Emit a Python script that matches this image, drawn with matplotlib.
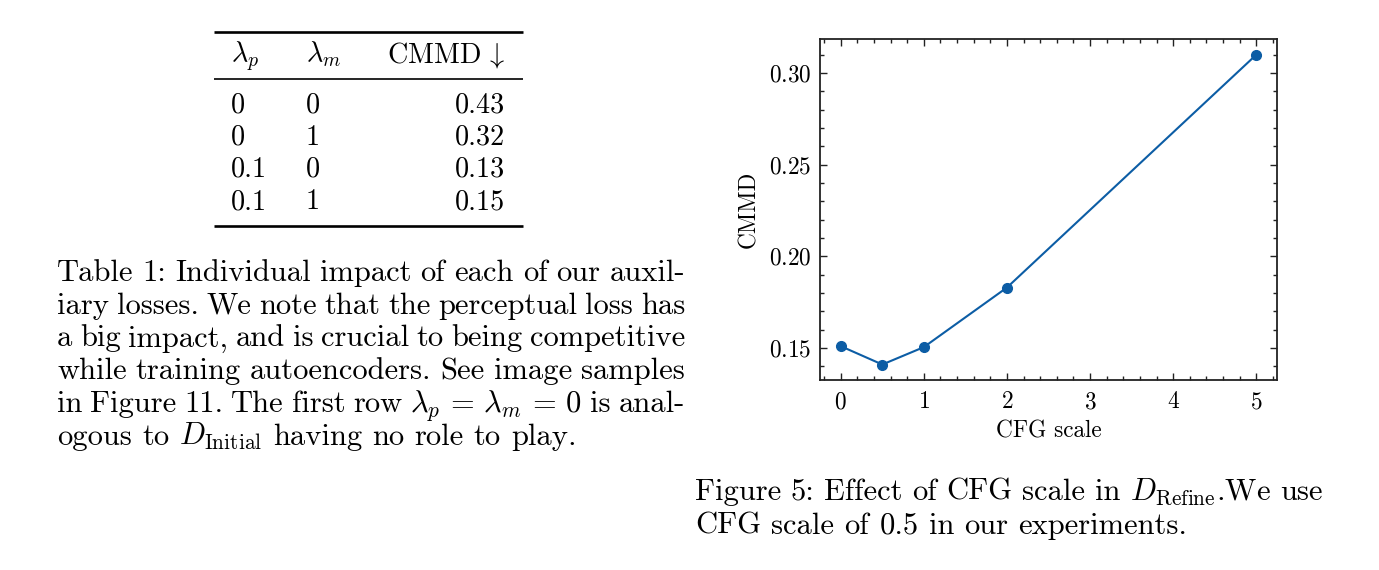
import matplotlib
matplotlib.use('Agg')

import matplotlib.pyplot as plt
from matplotlib.ticker import AutoMinorLocator, MultipleLocator


# Figure 5 data
cfg_scale = [0, 0.5, 1, 2, 5]
cmmd = [0.151, 0.141, 0.1505, 0.183, 0.310]

# Table 1 data
table_header = [r'$\lambda_p$', r'$\lambda_m$', r'CMMD$\,\downarrow$']
lambda_p = ['0', '0', '0.1', '0.1']
lambda_m = ['0', '1', '0', '1']
table_cmmd = ['0.43', '0.32', '0.13', '0.15']

table_caption = [
    'Table 1: Individual impact of each of our auxil-',
    'iary losses. We note that the perceptual loss has',
    'a big impact, and is crucial to being competitive',
    'while training autoencoders. See image samples',
    r'in Figure 11. The first row $\lambda_p\,=\,\lambda_m\,=\,0$ is anal-',
    r'ogous to $D_{\mathrm{Initial}}$ having no role to play.',
]
figure_caption = [
    r'Figure 5: Effect of CFG scale in $D_{\mathrm{Refine}}$.We use',
    'CFG scale of 0.5 in our experiments.',
]

plt.rcParams['font.family'] = 'cmr10'
plt.rcParams['mathtext.fontset'] = 'cm'
plt.rcParams['axes.formatter.use_mathtext'] = True

TABLE_SIZE = 20.3
CAPTION_SIZE = 22
PLOT_SIZE = 16.8


def draw_justified(page, renderer, lines, x0, x1, y0, dy, size):
    space = 0.333 * size * 100 / 72
    for i, line in enumerate(lines):
        words = line.split(' ')
        texts = [page.text(0, 0, w, fontsize=size, va='baseline', ha='left')
                 for w in words]
        widths = [t.get_window_extent(renderer).width for t in texts]
        if i < len(lines) - 1 and len(words) > 1:
            gap = (x1 - x0 - sum(widths)) / (len(words) - 1)
        else:
            gap = space
        x = x0
        for t, w in zip(texts, widths):
            t.set_position((x, y0 + i * dy))
            x += w + gap


fig = plt.figure(figsize=(13.79, 5.70), dpi=100)

# page overlay in pixel coordinates
page = fig.add_axes([0, 0, 1, 1])
page.set_xlim(0, 1379)
page.set_ylim(570, 0)
page.axis('off')
page.patch.set_alpha(0)

# Table 1
col_left = [231, 306]
col_right = 505
page.plot([214, 523], [31.5, 31.5], color='black', lw=1.9, solid_capstyle='butt')
page.plot([214, 523], [79, 79], color='black', lw=1.2, solid_capstyle='butt')
page.plot([214, 523], [226, 226], color='black', lw=1.9, solid_capstyle='butt')
page.text(col_left[0], 62.5, table_header[0], fontsize=TABLE_SIZE, va='baseline')
page.text(col_left[1], 62.5, table_header[1], fontsize=TABLE_SIZE, va='baseline')
page.text(col_right, 62.5, table_header[2], fontsize=TABLE_SIZE, va='baseline', ha='right')
for i in range(len(table_cmmd)):
    y = 112.3 + i * 32.3
    page.text(col_left[0], y, lambda_p[i], fontsize=TABLE_SIZE, va='baseline')
    page.text(col_left[1], y, lambda_m[i], fontsize=TABLE_SIZE, va='baseline')
    page.text(col_right, y, table_cmmd[i], fontsize=TABLE_SIZE, va='baseline', ha='right')

# Figure 5
ax = fig.add_axes([820 / 1379, 1 - 380 / 570, 457 / 1379, 340.7 / 570])
ax.plot(cfg_scale, cmmd, color='#0C5DA5', lw=1.5, marker='o', markersize=7)
ax.set_xlabel('CFG scale', fontsize=PLOT_SIZE, labelpad=5)
ax.set_ylabel('CMMD', fontsize=PLOT_SIZE, labelpad=6)
ax.xaxis.set_major_locator(MultipleLocator(1))
ax.yaxis.set_major_locator(MultipleLocator(0.05))
ax.xaxis.set_minor_locator(AutoMinorLocator(5))
ax.yaxis.set_minor_locator(AutoMinorLocator(5))
ax.tick_params(which='both', direction='in', top=True, right=True,
               labelsize=PLOT_SIZE, color='#222222', width=1.0)
ax.tick_params(which='major', length=5)
ax.tick_params(which='minor', length=2.7)
ax.tick_params(axis='x', which='major', pad=8)
ax.tick_params(axis='y', which='major', pad=6.5)
for s in ax.spines.values():
    s.set_linewidth(1.3)
    s.set_color('#222222')

# captions
fig.canvas.draw()
renderer = fig.canvas.get_renderer()
draw_justified(page, renderer, table_caption, 57, 685, 280.7, 32.9, CAPTION_SIZE)
draw_justified(page, renderer, figure_caption, 695, 1323, 500, 33.5, CAPTION_SIZE)

fig.savefig('out.png', dpi=100)
